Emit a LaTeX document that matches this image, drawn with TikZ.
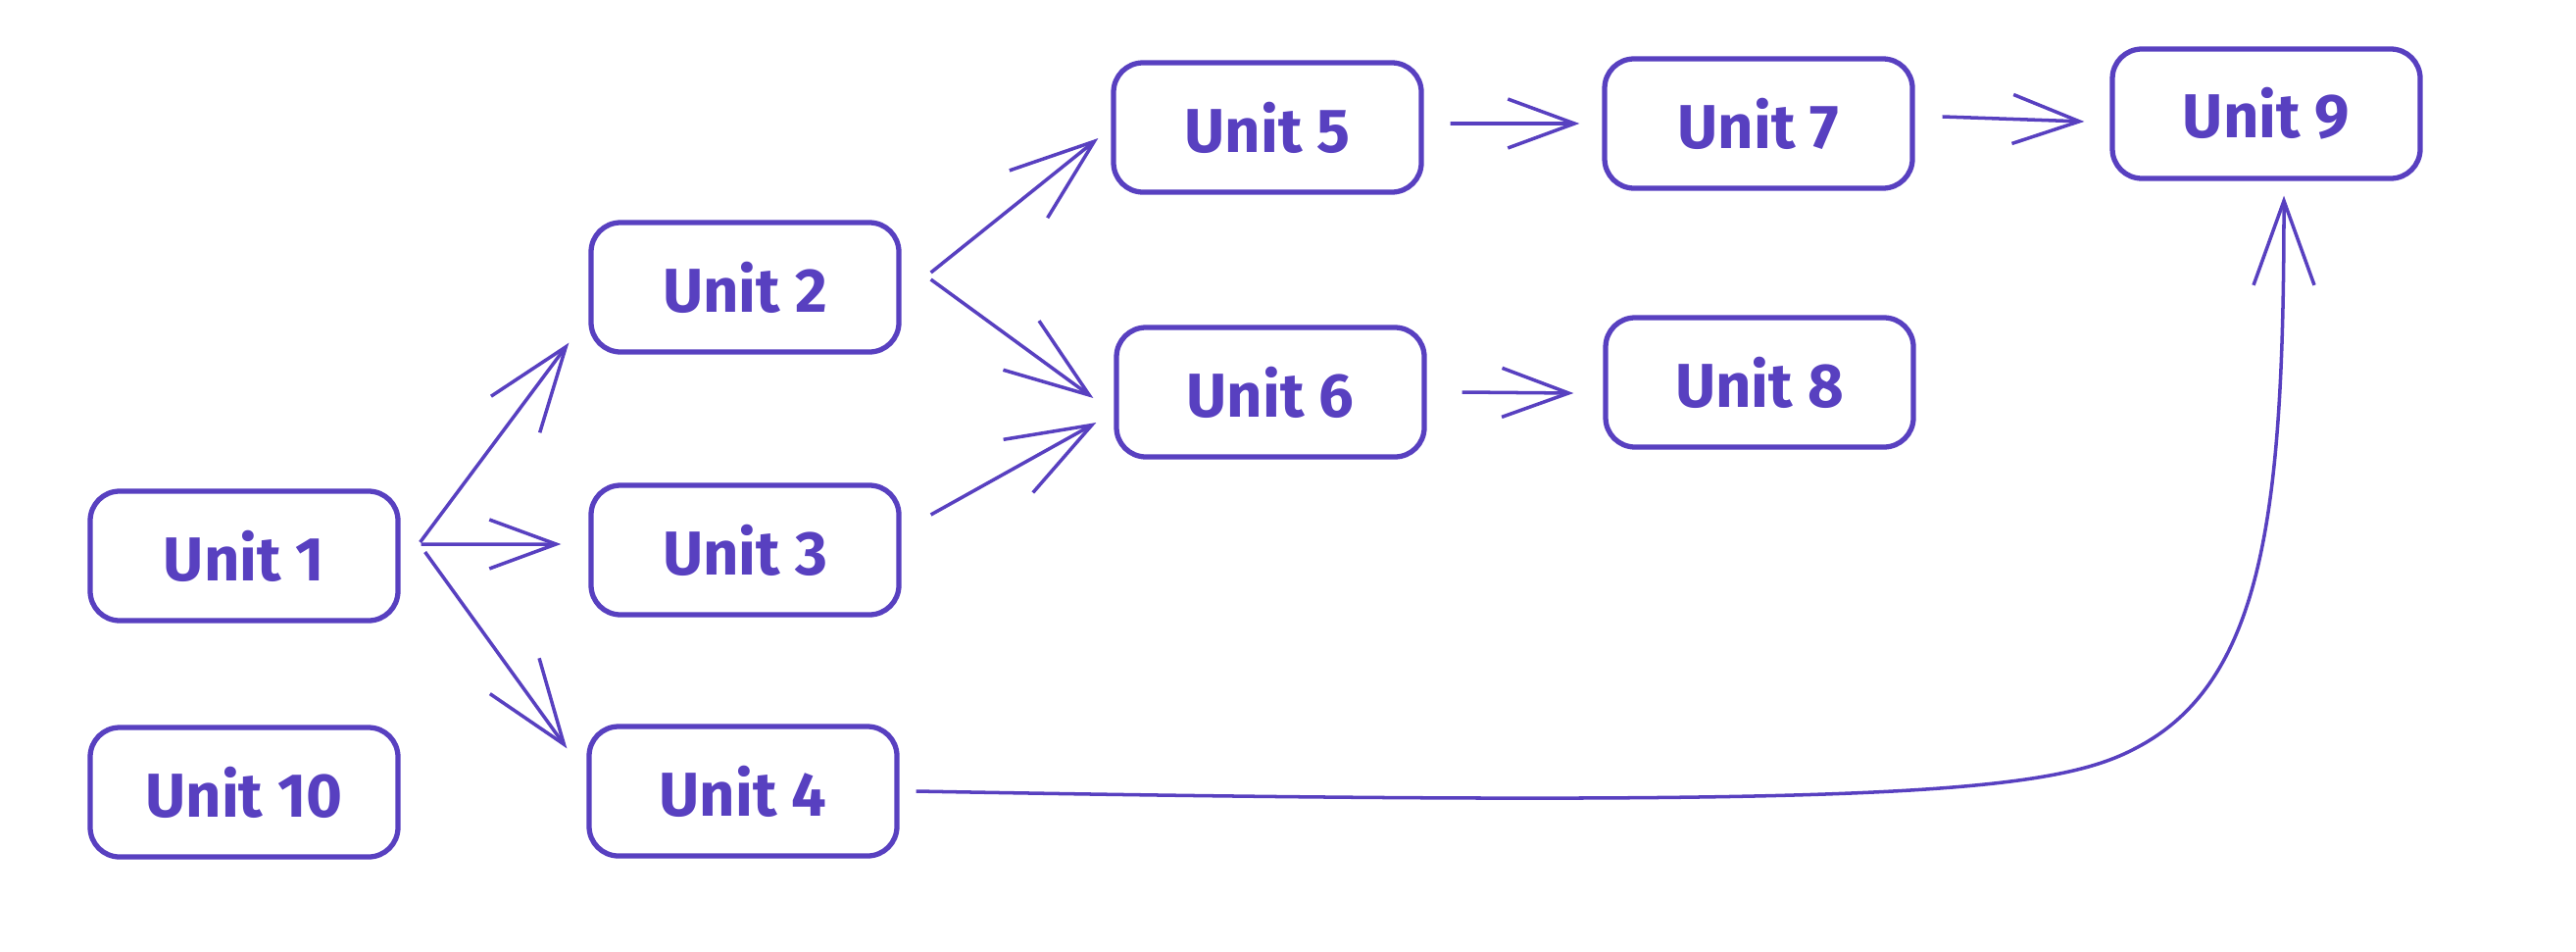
\documentclass[tikz,border=0pt]{standalone}
\usepackage{fontspec}
\setmainfont{Fira Sans}
\usepackage{tikz}
\usetikzlibrary{arrows.meta}
\definecolor{ink}{RGB}{88,64,192}
\tikzstyle{unit}=[draw=ink, line width=1.5pt, rounded corners=3mm, minimum width=3.14cm, minimum height=1.32cm, text=ink, font=\fontsize{18}{21}\selectfont\bfseries]
\tikzstyle{link}=[draw=ink, line width=1pt, -{Straight Barb[length=6.8mm,width=5mm]}]
\tikzstyle{longlink}=[draw=ink, line width=1pt, -{Straight Barb[length=8.6mm,width=6.2mm]}]

\begin{document}
\begin{tikzpicture}
\useasboundingbox (0,0) rectangle (26.28,-9.70);
\node[unit] (u1) at (2.49,-5.67) {Unit 1};
\node[unit] (u10) at (2.49,-8.08) {Unit 10};
\node[unit] (u2) at (7.60,-2.93) {Unit 2};
\node[unit] (u3) at (7.60,-5.61) {Unit 3};
\node[unit] (u4) at (7.58,-8.07) {Unit 4};
\node[unit] (u5) at (12.93,-1.30) {Unit 5};
\node[unit] (u6) at (12.96,-4.00) {Unit 6};
\node[unit] (u7) at (17.94,-1.26) {Unit 7};
\node[unit] (u8) at (17.95,-3.90) {Unit 8};
\node[unit] (u9) at (23.12,-1.16) {Unit 9};
\draw[longlink] ([xshift=2mm,yshift=1.4mm]u1.east) -- ([xshift=-2mm,yshift=1.2mm]u2.south west);
\draw[link] ([xshift=2.1mm,yshift=1.2mm]u1.east) -- ([xshift=-2.8mm,yshift=0.6mm]u3.west);
\draw[longlink] ([xshift=2.5mm,yshift=0.4mm]u1.east) -- ([xshift=-2mm,yshift=-2.5mm]u4.north west);
\draw[longlink] ([xshift=3mm,yshift=1.5mm]u2.east) -- ([xshift=-1.3mm,yshift=-1.1mm]u5.west);
\draw[longlink] ([xshift=3mm,yshift=0.8mm]u2.east) -- ([xshift=-2.1mm,yshift=-0.6mm]u6.west);
\draw[longlink] ([xshift=3mm,yshift=3.6mm]u3.east) -- ([xshift=-1.8mm,yshift=-3.1mm]u6.west);
\draw[link] ([xshift=2.7mm,yshift=0.4mm]u5.east) -- ([xshift=-2.3mm]u7.west);
\draw[link] ([xshift=3.6mm]u6.east) -- ([xshift=-3mm,yshift=-1.1mm]u8.west);
\draw[link] ([xshift=2.8mm,yshift=0.7mm]u7.east) -- ([xshift=-2.6mm,yshift=-0.8mm]u9.west);
\draw[longlink] ([xshift=1.7mm]u4.east) .. controls (19.27,-8.25) and (20.95,-8.08) .. (21.79,-7.63)
  .. controls (23.10,-6.95) and (23.30,-5.20) .. ([xshift=1.8mm,yshift=-1.5mm]u9.south);
\end{tikzpicture}
\end{document}
